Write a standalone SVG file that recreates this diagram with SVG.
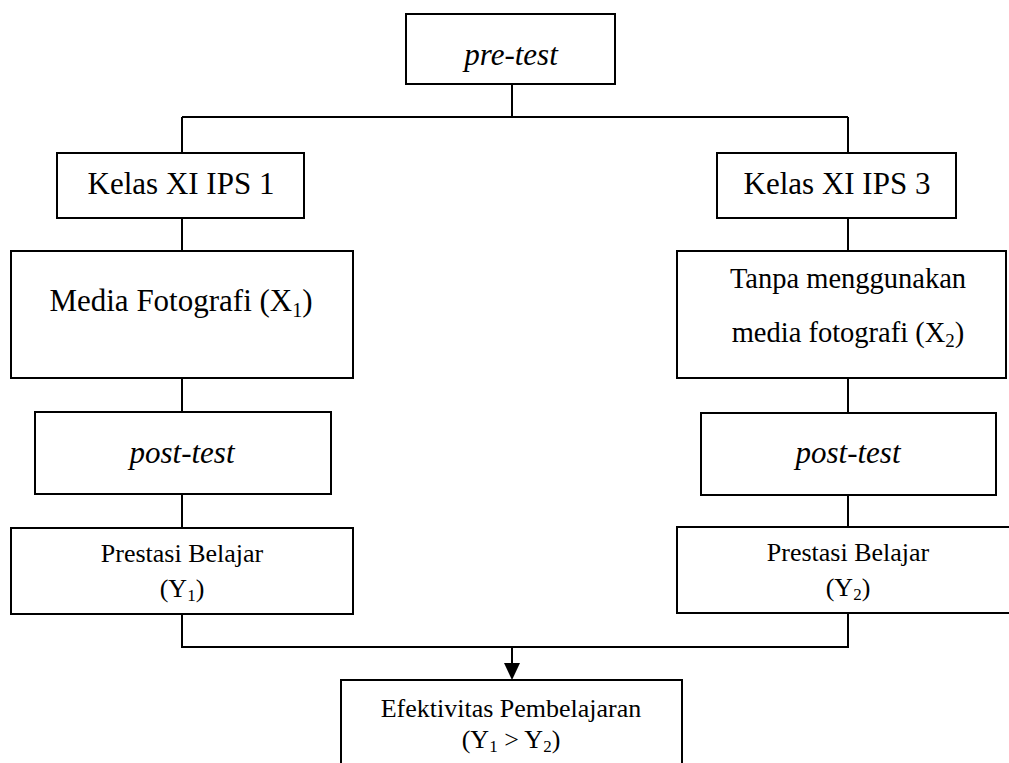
<svg xmlns="http://www.w3.org/2000/svg" width="1009" height="763" viewBox="0 0 1009 763">
<style>
.box{fill:#fff;stroke:#000;stroke-width:2}
.ln{fill:none;stroke:#000;stroke-width:2}
text{font-family:"Liberation Serif","Times New Roman",serif;fill:#000;text-anchor:middle}
.big{font-size:31px}
.mid{font-size:28.5px}
.sm{font-size:26px}
.it{font-style:italic}
</style>
<defs>
<marker id="arr" markerWidth="16" markerHeight="18" refX="8" refY="17" orient="auto" markerUnits="userSpaceOnUse" viewBox="0 0 16 18">
<path d="M0,0 L16,0 L8,17 Z" fill="#000"/>
</marker>
</defs>
<g id="connectors">
<path class="ln" d="M512,84 V117 M182,117 H848 M182,117 V153 M848,117 V153"/>
<path class="ln" d="M182,218 V251 M848,218 V251"/>
<path class="ln" d="M182,378 V412 M848,378 V413"/>
<path class="ln" d="M182,494 V528 M848,495 V527"/>
<path class="ln" d="M182,614 V647 H848 V613"/>
<path class="ln" d="M512,647 V664"/>
<path d="M504,663 L520,663 L512,680 Z" fill="#000"/>
</g>
<g id="pretest">
<rect class="box" x="406" y="14" width="209" height="70"/>
<text class="big it" x="511" y="65">pre-test</text>
</g>
<g id="kelas1">
<rect class="box" x="57" y="153" width="247" height="65"/>
<text class="big" x="181" y="194">Kelas XI IPS 1</text>
</g>
<g id="kelas3">
<rect class="box" x="717" y="153" width="239" height="65"/>
<text class="big" x="837" y="194">Kelas XI IPS 3</text>
</g>
<g id="media1">
<rect class="box" x="11" y="251" width="342" height="127"/>
<text class="big" x="181" y="311">Media Fotografi (X<tspan font-size="20" dy="6">1</tspan><tspan dy="-6">)</tspan></text>
</g>
<g id="media2">
<rect class="box" x="677" y="251" width="329" height="127"/>
<text class="mid" x="848" y="288">Tanpa menggunakan</text>
<text class="mid" x="848" y="342">media fotografi (X<tspan font-size="19" dy="5">2</tspan><tspan dy="-5">)</tspan></text>
</g>
<g id="post1">
<rect class="box" x="35" y="412" width="296" height="82"/>
<text class="big it" x="182" y="463">post-test</text>
</g>
<g id="post2">
<rect class="box" x="701" y="413" width="295" height="82"/>
<text class="big it" x="848" y="463">post-test</text>
</g>
<g id="prestasi1">
<rect class="box" x="11" y="528" width="342" height="86"/>
<text class="sm" x="182" y="562">Prestasi Belajar</text>
<text class="sm" x="182" y="597">(Y<tspan font-size="17" dy="4">1</tspan><tspan dy="-4">)</tspan></text>
</g>
<g id="prestasi2">
<rect class="box" x="677" y="527" width="340" height="86"/>
<text class="sm" x="848" y="561">Prestasi Belajar</text>
<text class="sm" x="848" y="596">(Y<tspan font-size="17" dy="4">2</tspan><tspan dy="-4">)</tspan></text>
</g>
<g id="efektivitas">
<rect class="box" x="341" y="680" width="341" height="95"/>
<text class="sm" x="511" y="717">Efektivitas Pembelajaran</text>
<text class="sm" x="511" y="748">(Y<tspan font-size="17" dy="4">1</tspan><tspan dy="-4"> &gt; Y</tspan><tspan font-size="17" dy="4">2</tspan><tspan dy="-4">)</tspan></text>
</g>
</svg>
